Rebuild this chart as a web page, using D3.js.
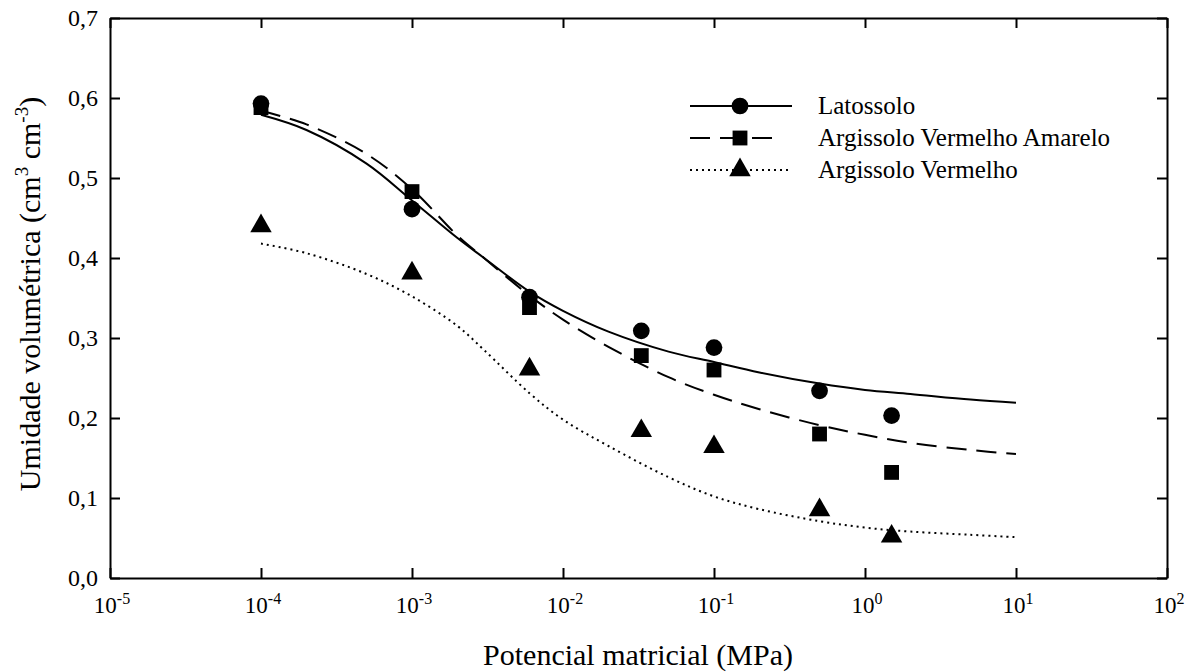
<!DOCTYPE html>
<html>
<head>
<meta charset="utf-8">
<script src="https://cdn.jsdelivr.net/npm/d3@7"></script>
<style>
  body { margin: 0; background: #fff; }
  text { font-family: 'Liberation Serif', 'Times New Roman', serif; fill: #000; }
</style>
</head>
<body>
<div id="chart"></div>
<script>
// measured points (potential in MPa)
let potential = [0.0001, 0.001, 0.006, 0.033, 0.1, 0.5, 1.5]
let latossolo = [0.593, 0.461, 0.351, 0.309, 0.288, 0.234, 0.203]
let argVermAm = [0.588, 0.483, 0.338, 0.278, 0.260, 0.180, 0.132]
let argVerm = [0.440, 0.381, 0.261, 0.184, 0.164, 0.085, 0.052]

// fitted curves
let curvePotential = [0.0001, 0.0002, 0.0005, 0.001, 0.002, 0.003, 0.006, 0.01, 0.02, 0.05, 0.1, 0.2, 0.5, 1, 2, 5, 10]
let latossoloFit = [0.579, 0.560, 0.518, 0.472, 0.425, 0.400, 0.358, 0.334, 0.308, 0.283, 0.270, 0.257, 0.243, 0.235, 0.230, 0.223, 0.219]
let argVermAmFit = [0.584, 0.567, 0.530, 0.486, 0.428, 0.400, 0.353, 0.323, 0.289, 0.251, 0.229, 0.211, 0.191, 0.179, 0.169, 0.160, 0.155]
let argVermFit = [0.418, 0.406, 0.380, 0.352, 0.315, 0.285, 0.231, 0.198, 0.165, 0.126, 0.102, 0.086, 0.071, 0.063, 0.058, 0.054, 0.051]

let xTicks = [-5, -4, -3, -2, -1, 0, 1, 2]
let yTicks = [0, 0.1, 0.2, 0.3, 0.4, 0.5, 0.6, 0.7]

let seriesNames = ['Latossolo', 'Argissolo Vermelho Amarelo', 'Argissolo Vermelho']

let width = 1192,
  height = 672
let margin = { top: 18, right: 25, bottom: 94, left: 110 }

let svg = d3.select('#chart')
  .append('svg')
  .attr('width', width)
  .attr('height', height)

let x = d3.scaleLog().domain([1e-5, 1e2]).range([margin.left, width - margin.right])
let y = d3.scaleLinear().domain([0, 0.7]).range([height - margin.bottom, margin.top])

let tickVals = xTicks.map(e => Math.pow(10, e))

// axes, ticks pointing inward
svg.append('g')
  .attr('transform', `translate(0,${y(0)})`)
  .call(d3.axisBottom(x).tickValues(tickVals).tickSizeInner(-10).tickSizeOuter(0).tickFormat(''))
svg.append('g')
  .attr('transform', `translate(0,${y(0.7)})`)
  .call(d3.axisTop(x).tickValues(tickVals).tickSizeInner(-10).tickSizeOuter(0).tickFormat(''))
svg.append('g')
  .attr('transform', `translate(${x(1e-5)},0)`)
  .call(d3.axisLeft(y).tickValues(yTicks).tickSizeInner(-10).tickSizeOuter(0).tickFormat(''))
svg.append('g')
  .attr('transform', `translate(${x(1e2)},0)`)
  .call(d3.axisRight(y).tickValues(yTicks).tickSizeInner(-10).tickSizeOuter(0).tickFormat(''))

svg.selectAll('.domain, .tick line')
  .attr('stroke', '#000')
  .attr('stroke-width', 2)

// tick labels
let xLab = svg.selectAll('.xlab')
  .data(xTicks)
  .enter()
  .append('text')
  .attr('class', 'xlab')
  .attr('x', d => x(Math.pow(10, d)) + 2)
  .attr('y', y(0) + 35)
  .attr('text-anchor', 'middle')
  .style('font-size', '23px')
xLab.append('tspan').text('10')
xLab.append('tspan')
  .attr('dy', -9)
  .style('font-size', '16px')
  .text(d => d < 0 ? '-' + Math.abs(d) : d)

svg.selectAll('.ylab')
  .data(yTicks)
  .enter()
  .append('text')
  .attr('class', 'ylab')
  .attr('x', x(1e-5) - 12)
  .attr('y', d => y(d) + 8)
  .attr('text-anchor', 'end')
  .style('font-size', '24px')
  .text(d => d.toFixed(1).replace('.', ','))

// axis titles
svg.append('text')
  .attr('x', 638)
  .attr('y', 665)
  .attr('text-anchor', 'middle')
  .style('font-size', '30px')
  .text('Potencial matricial (MPa)')

let yTitle = svg.append('text')
  .attr('transform', `translate(40,294) rotate(-90)`)
  .attr('text-anchor', 'middle')
  .style('font-size', '30px')
yTitle.append('tspan').text('Umidade volumétrica (cm')
yTitle.append('tspan').attr('dy', -12).style('font-size', '19px').text('3')
yTitle.append('tspan').attr('dy', 12).text(' cm')
yTitle.append('tspan').attr('dy', -12).style('font-size', '19px').text('-3')
yTitle.append('tspan').attr('dy', 12).text(')')

// curves
let line = d3.line()
  .x(d => x(d[0]))
  .y(d => y(d[1]))
  .curve(d3.curveCatmullRom.alpha(0.5))

let dashes = [null, '20,10', '2,4']
let fits = [latossoloFit, argVermAmFit, argVermFit]
let observed = [latossolo, argVermAm, argVerm]
let symbols = [d3.symbolCircle, d3.symbolSquare, d3.symbolTriangle]
let symSize = [220, 220, 200]

fits.forEach((fit, i) => {
  svg.append('path')
    .datum(curvePotential.map((p, j) => [p, fit[j]]))
    .attr('d', line)
    .attr('fill', 'none')
    .attr('stroke', '#000')
    .attr('stroke-width', 2)
    .attr('stroke-dasharray', dashes[i])
})

observed.forEach((obs, i) => {
  svg.selectAll('.pt' + i)
    .data(potential.map((p, j) => [p, obs[j]]))
    .enter()
    .append('path')
    .attr('class', 'pt' + i)
    .attr('d', d3.symbol().type(symbols[i]).size(symSize[i]))
    .attr('transform', d => `translate(${x(d[0])},${y(d[1])})`)
    .attr('fill', '#000')
})

// legend
let legend = svg.append('g').attr('transform', 'translate(690,106)')
seriesNames.forEach((name, i) => {
  let row = legend.append('g').attr('transform', `translate(0,${i * 32})`)
  row.append('line')
    .attr('x1', 0).attr('x2', 102)
    .attr('stroke', '#000')
    .attr('stroke-width', 2)
    .attr('stroke-dasharray', i === 1 ? '20,10,22,10,20' : dashes[i])
  row.append('path')
    .attr('d', d3.symbol().type(symbols[i]).size(symSize[i]))
    .attr('transform', 'translate(50,0)')
    .attr('fill', '#000')
  row.append('text')
    .attr('x', 128)
    .attr('y', 8)
    .style('font-size', '25px')
    .text(name)
})
</script>
</body>
</html>
